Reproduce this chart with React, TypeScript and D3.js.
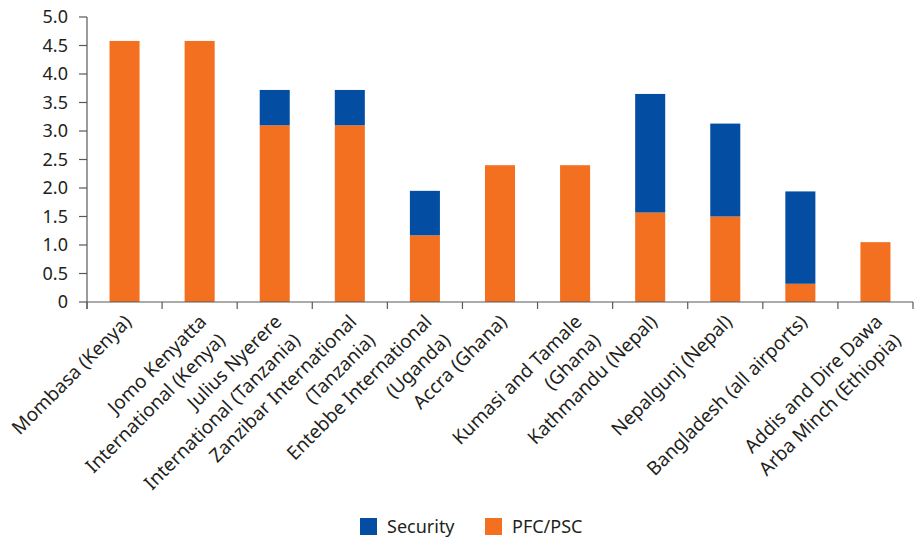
import React from "react";
import * as d3 from "d3";

const categories: string[][] = [
  ["Mombasa (Kenya)"],
  ["Jomo Kenyatta", "International (Kenya)"],
  ["Julius Nyerere", "International (Tanzania)"],
  ["Zanzibar International", "(Tanzania)"],
  ["Entebbe International", "(Uganda)"],
  ["Accra (Ghana)"],
  ["Kumasi and Tamale", "(Ghana)"],
  ["Kathmandu (Nepal)"],
  ["Nepalgunj (Nepal)"],
  ["Bangladesh (all airports)"],
  ["Addis and Dire Dawa", "Arba Minch (Ethiopia)"],
];
const pfcPsc = [4.58, 4.58, 3.1, 3.1, 1.17, 2.4, 2.4, 1.57, 1.5, 0.32, 1.05];
const security = [0, 0, 0.62, 0.62, 0.78, 0, 0, 2.08, 1.63, 1.62, 0];
const yTicks = [0, 0.5, 1, 1.5, 2, 2.5, 3, 3.5, 4, 4.5, 5];
const seriesNames = ["Security", "PFC/PSC"];

const W = 915;
const H = 539;
const left = 87;
const right = 913;
const top = 17;
const bottom = 302;
const BLUE = "#034ea2";
const ORANGE = "#f37021";
const TEXT = "#231f20";
const AXIS = "#58595b";
const FONT = "'Noto Sans', sans-serif";

export default function App() {
  const x = d3
    .scaleBand<number>()
    .domain(d3.range(categories.length))
    .range([left, right])
    .paddingInner(0.6)
    .paddingOuter(0.3);
  const step = (right - left) / categories.length;
  const y = d3.scaleLinear().domain([0, 5]).range([bottom, top]);

  return (
    <svg
      width={W}
      height={H}
      style={{ position: "absolute", left: 0, top: 0, fontFamily: FONT }}
    >
      {categories.map((_, i) => {
        const bx = x(i)!;
        const bw = x.bandwidth();
        const p = pfcPsc[i];
        const s = security[i];
        return (
          <g key={i}>
            <rect x={bx} y={y(p)} width={bw} height={y(0) - y(p)} fill={ORANGE} />
            {s > 0 && (
              <rect x={bx} y={y(p + s)} width={bw} height={y(p) - y(p + s)} fill={BLUE} />
            )}
          </g>
        );
      })}
      {/* y axis */}
      <line x1={left} x2={left} y1={top} y2={bottom + 7} stroke={AXIS} strokeWidth={1.2} />
      {yTicks.map((t) => (
        <g key={t}>
          <line x1={left - 8} x2={left} y1={y(t)} y2={y(t)} stroke={AXIS} strokeWidth={1.2} />
          <text
            x={68}
            y={y(t)}
            dy="0.36em"
            textAnchor="end"
            fontSize={18}
            fill={TEXT}
          >
            {t === 0 ? "0" : d3.format(".1f")(t)}
          </text>
        </g>
      ))}
      {/* x axis */}
      <line x1={left} x2={right} y1={bottom} y2={bottom} stroke={AXIS} strokeWidth={1.2} />
      {d3.range(categories.length + 1).map((i) => (
        <line
          key={i}
          x1={left + i * step}
          x2={left + i * step}
          y1={bottom}
          y2={bottom + 7}
          stroke={AXIS}
          strokeWidth={1.2}
        />
      ))}
      {categories.map((lines, i) => {
        const cx = x(i)! + x.bandwidth() / 2;
        return (
          <text
            key={i}
            transform={`translate(${cx + 8},${bottom + 21}) rotate(-45)`}
            textAnchor="end"
            fontSize={19}
            fill={TEXT}
          >
            {lines.map((l, j) => (
              <tspan key={j} x={0} dy={j === 0 ? 0 : "1.38em"}>
                {l}
              </tspan>
            ))}
          </text>
        );
      })}
      {/* legend */}
      {seriesNames.map((n, i) => (
        <g key={n} transform={`translate(${360 + i * 125},518)`}>
          <rect width={17} height={17} fill={i === 0 ? BLUE : ORANGE} />
          <text x={27} y={15} fontSize={18} fill={TEXT}>
            {n}
          </text>
        </g>
      ))}
    </svg>
  );
}
